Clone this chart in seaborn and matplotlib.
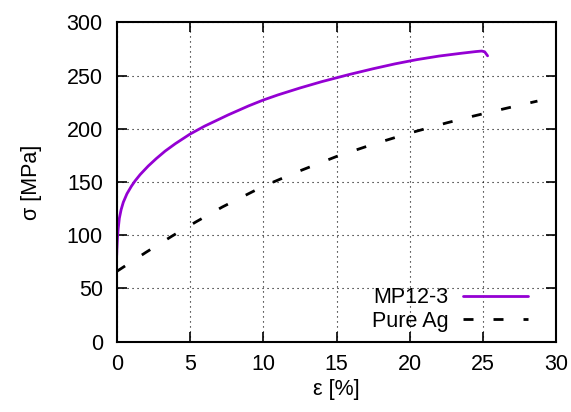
import matplotlib
matplotlib.use("Agg")
import matplotlib.pyplot as plt
import numpy as np
import pandas as pd
import seaborn as sns

# Stress-strain curves
mp_strain = [0, 0.01, 0.05, 0.1, 0.18, 0.3, 0.45, 0.7, 1.0, 1.25, 1.6, 2.15, 2.7, 3.3, 4, 5, 6,
             7.6, 9, 10, 11, 12.5, 14, 15.9, 17.5, 19, 20.5, 22, 23.5, 24.5, 24.9, 25.1, 25.3]
mp_stress = [81, 86, 97, 106, 116, 124, 131, 139, 146, 151, 157, 165, 172, 179, 186, 195, 202.5,
             213, 221.5, 227, 231.8, 238.3, 244.3, 251.1, 256.4, 261, 265, 268.3, 270.9, 272.5, 273, 272.3, 268.5]
ag_strain = [0, 2, 3.75, 5.4, 7.2, 10, 12.5, 15, 17.5, 20, 22.5, 24.3, 26.5, 28.7]
ag_stress = [66, 84, 99, 112.5, 126.5, 146, 160.5, 174, 185.5, 196, 205.5, 211.8, 219, 226]
series_names = ["MP12-3", "Pure Ag"]

x_ticks = [0, 5, 10, 15, 20, 25, 30]
y_ticks = [0, 50, 100, 150, 200, 250, 300]

df = pd.concat([
    pd.DataFrame({"strain": mp_strain, "stress": mp_stress, "series": series_names[0]}),
    pd.DataFrame({"strain": ag_strain, "stress": ag_stress, "series": series_names[1]}),
], ignore_index=True)

sns.set_style("ticks")
plt.rcParams["font.family"] = ["Liberation Sans", "DejaVu Sans"]
plt.rcParams["text.color"] = "black"
plt.rcParams["axes.labelcolor"] = "black"

FS = 15.5

fig = plt.figure(figsize=(5.71, 4.12), dpi=100)
ax = fig.add_axes([0.2044, 0.1706, 0.7702, 0.7753])

sns.lineplot(data=df[df.series == series_names[0]], x="strain", y="stress",
             color="#9400d3", lw=2.0, sort=False, ax=ax, label=series_names[0])
sns.lineplot(data=df[df.series == series_names[1]], x="strain", y="stress",
             color="black", lw=2.0, sort=False, ax=ax, label=series_names[1])
ax.lines[1].set_dashes((3.6, 7.2))

ax.set_xlim(0, 30)
ax.set_ylim(0, 300)
ax.set_xticks(x_ticks)
ax.set_yticks(y_ticks)
ax.tick_params(direction="in", length=7, width=1.2, top=True, right=True,
               labelsize=FS, colors="black")
ax.tick_params(axis="y", pad=10)
ax.tick_params(axis="x", pad=9)
for s in ax.spines.values():
    s.set_linewidth(1.5)
    s.set_color("black")
ax.grid(True, color="black", lw=0.8, linestyle=(0, (1, 3.5)))

ax.set_xlabel("ε [%]", fontsize=FS, labelpad=3)
ax.set_ylabel("σ [MPa]", fontsize=FS, labelpad=18)

leg = ax.legend(loc="lower right", frameon=False, markerfirst=False, fontsize=FS,
                handlelength=3.0, handletextpad=0.7, labelspacing=0.12,
                borderpad=0, borderaxespad=0,
                bbox_to_anchor=(528 / 571, 80 / 412), bbox_transform=fig.transFigure)
leg.get_lines()[1].set_dashes((3.6, 7.2))

fig.savefig("out.png", dpi=100)
